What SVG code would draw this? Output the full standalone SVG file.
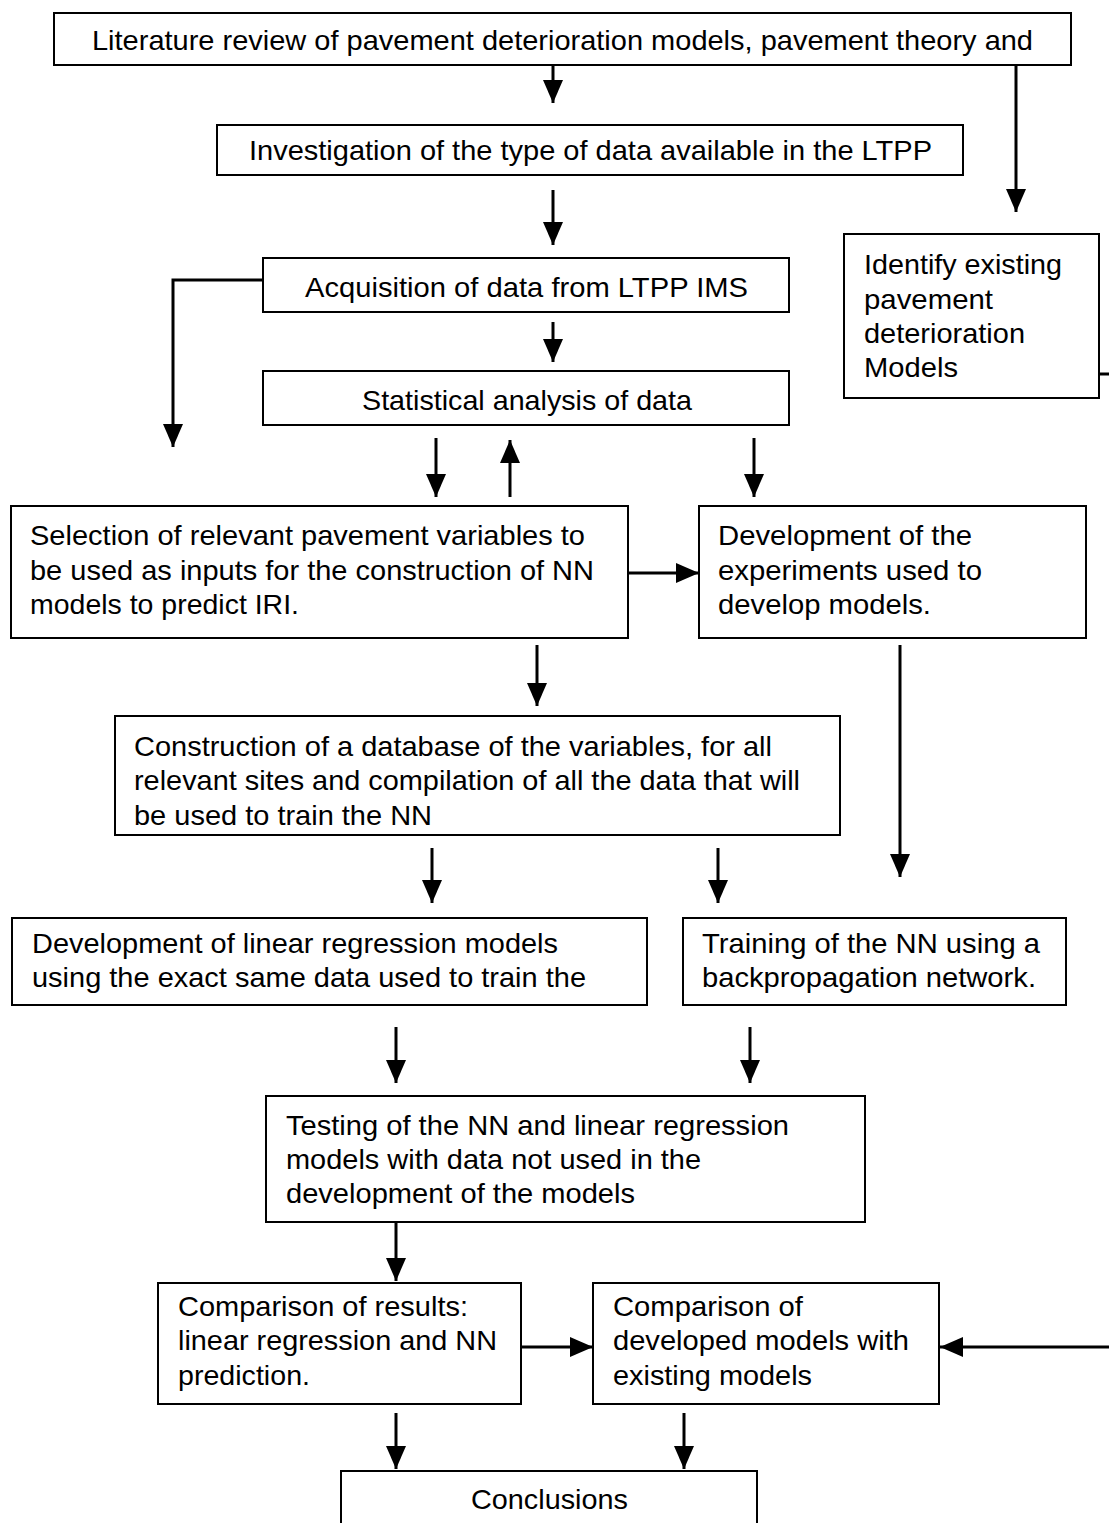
<svg xmlns="http://www.w3.org/2000/svg" width="1109" height="1523" viewBox="0 0 1109 1523">
<defs>
<marker id="ah" markerUnits="userSpaceOnUse" markerWidth="26" markerHeight="22" refX="23" refY="10" orient="auto">
<path d="M0,0 L23,10 L0,20 z" fill="#000"/>
</marker>
<style>
.box{fill:#fff;stroke:#000;stroke-width:2}
.t{font-family:"Liberation Sans",Arial,sans-serif;font-size:28px;fill:#000}
.conn line,.conn path{stroke:#000;stroke-width:3;fill:none}
.arr{marker-end:url(#ah)}
</style>
</defs>
<rect width="1109" height="1523" fill="#fff"/>
<g class="conn">
<line class="arr" x1="553" y1="66" x2="553" y2="103"/>
<line class="arr" x1="1016" y1="66" x2="1016" y2="212"/>
<line class="arr" x1="553" y1="190" x2="553" y2="245"/>
<line class="arr" x1="553" y1="322" x2="553" y2="362"/>
<path class="arr" d="M263,280 H173 V447"/>
<line class="arr" x1="436" y1="438" x2="436" y2="497"/>
<line class="arr" x1="510" y1="497" x2="510" y2="440"/>
<line class="arr" x1="754" y1="438" x2="754" y2="497"/>
<line class="arr" x1="628" y1="573" x2="699" y2="573"/>
<line class="arr" x1="537" y1="645" x2="537" y2="706"/>
<line class="arr" x1="900" y1="645" x2="900" y2="877"/>
<line class="arr" x1="432" y1="848" x2="432" y2="903"/>
<line class="arr" x1="718" y1="848" x2="718" y2="903"/>
<line class="arr" x1="396" y1="1027" x2="396" y2="1083"/>
<line class="arr" x1="750" y1="1027" x2="750" y2="1083"/>
<line class="arr" x1="396" y1="1222" x2="396" y2="1281"/>
<line class="arr" x1="521" y1="1347" x2="593" y2="1347"/>
<line class="arr" x1="1109" y1="1347" x2="940" y2="1347"/>
<line class="arr" x1="396" y1="1413" x2="396" y2="1469"/>
<line class="arr" x1="684" y1="1413" x2="684" y2="1469"/>
<line x1="1099" y1="374" x2="1109" y2="374"/>
</g>
<g id="n1"><rect class="box" x="54" y="13" width="1017" height="52"/>
<text class="t" x="92" y="50" textLength="941" lengthAdjust="spacingAndGlyphs">Literature review of pavement deterioration models, pavement theory and</text></g>
<g id="n2"><rect class="box" x="217" y="125" width="746" height="50"/>
<text class="t" x="249" y="160" textLength="683" lengthAdjust="spacingAndGlyphs">Investigation of the type of data available in the LTPP</text></g>
<g id="n3"><rect class="box" x="263" y="258" width="526" height="54"/>
<text class="t" x="305" y="297" textLength="443" lengthAdjust="spacingAndGlyphs">Acquisition of data from LTPP IMS</text></g>
<g id="n4"><rect class="box" x="263" y="371" width="526" height="54"/>
<text class="t" x="362" y="410" textLength="330" lengthAdjust="spacingAndGlyphs">Statistical analysis of data</text></g>
<g id="n5"><rect class="box" x="844" y="234" width="255" height="164"/>
<text class="t" x="864" y="274" textLength="198" lengthAdjust="spacingAndGlyphs">Identify existing</text>
<text class="t" x="864" y="309" textLength="129" lengthAdjust="spacingAndGlyphs">pavement</text>
<text class="t" x="864" y="343" textLength="161" lengthAdjust="spacingAndGlyphs">deterioration</text>
<text class="t" x="864" y="377" textLength="94" lengthAdjust="spacingAndGlyphs">Models</text></g>
<g id="n6"><rect class="box" x="11" y="506" width="617" height="132"/>
<text class="t" x="30" y="545" textLength="555" lengthAdjust="spacingAndGlyphs">Selection of relevant pavement variables to</text>
<text class="t" x="30" y="580" textLength="564" lengthAdjust="spacingAndGlyphs">be used as inputs for the construction of NN</text>
<text class="t" x="30" y="614" textLength="269" lengthAdjust="spacingAndGlyphs">models to predict IRI.</text></g>
<g id="n7"><rect class="box" x="699" y="506" width="387" height="132"/>
<text class="t" x="718" y="545" textLength="254" lengthAdjust="spacingAndGlyphs">Development of the</text>
<text class="t" x="718" y="580" textLength="264" lengthAdjust="spacingAndGlyphs">experiments used to</text>
<text class="t" x="718" y="614" textLength="213" lengthAdjust="spacingAndGlyphs">develop models.</text></g>
<g id="n8"><rect class="box" x="115" y="716" width="725" height="119"/>
<text class="t" x="134" y="756" textLength="638" lengthAdjust="spacingAndGlyphs">Construction of a database of the variables, for all</text>
<text class="t" x="134" y="790" textLength="666" lengthAdjust="spacingAndGlyphs">relevant sites and compilation of all the data that will</text>
<text class="t" x="134" y="825" textLength="298" lengthAdjust="spacingAndGlyphs">be used to train the NN</text></g>
<g id="n9"><rect class="box" x="12" y="918" width="635" height="87"/>
<text class="t" x="32" y="953" textLength="526" lengthAdjust="spacingAndGlyphs">Development of linear regression models</text>
<text class="t" x="32" y="987" textLength="554" lengthAdjust="spacingAndGlyphs">using the exact same data used to train the</text></g>
<g id="n10"><rect class="box" x="683" y="918" width="383" height="87"/>
<text class="t" x="702" y="953" textLength="338" lengthAdjust="spacingAndGlyphs">Training of the NN using a</text>
<text class="t" x="702" y="987" textLength="334" lengthAdjust="spacingAndGlyphs">backpropagation network.</text></g>
<g id="n11"><rect class="box" x="266" y="1096" width="599" height="126"/>
<text class="t" x="286" y="1135" textLength="503" lengthAdjust="spacingAndGlyphs">Testing of the NN and linear regression</text>
<text class="t" x="286" y="1169" textLength="415" lengthAdjust="spacingAndGlyphs">models with data not used in the</text>
<text class="t" x="286" y="1203" textLength="349" lengthAdjust="spacingAndGlyphs">development of the models</text></g>
<g id="n12"><rect class="box" x="158" y="1283" width="363" height="121"/>
<text class="t" x="178" y="1316" textLength="290" lengthAdjust="spacingAndGlyphs">Comparison of results:</text>
<text class="t" x="178" y="1350" textLength="319" lengthAdjust="spacingAndGlyphs">linear regression and NN</text>
<text class="t" x="178" y="1385" textLength="132" lengthAdjust="spacingAndGlyphs">prediction.</text></g>
<g id="n13"><rect class="box" x="593" y="1283" width="346" height="121"/>
<text class="t" x="613" y="1316" textLength="190" lengthAdjust="spacingAndGlyphs">Comparison of</text>
<text class="t" x="613" y="1350" textLength="296" lengthAdjust="spacingAndGlyphs">developed models with</text>
<text class="t" x="613" y="1385" textLength="199" lengthAdjust="spacingAndGlyphs">existing models</text></g>
<g id="n14"><rect class="box" x="341" y="1471" width="416" height="70"/>
<text class="t" x="471" y="1509" textLength="157" lengthAdjust="spacingAndGlyphs">Conclusions</text></g>
</svg>
